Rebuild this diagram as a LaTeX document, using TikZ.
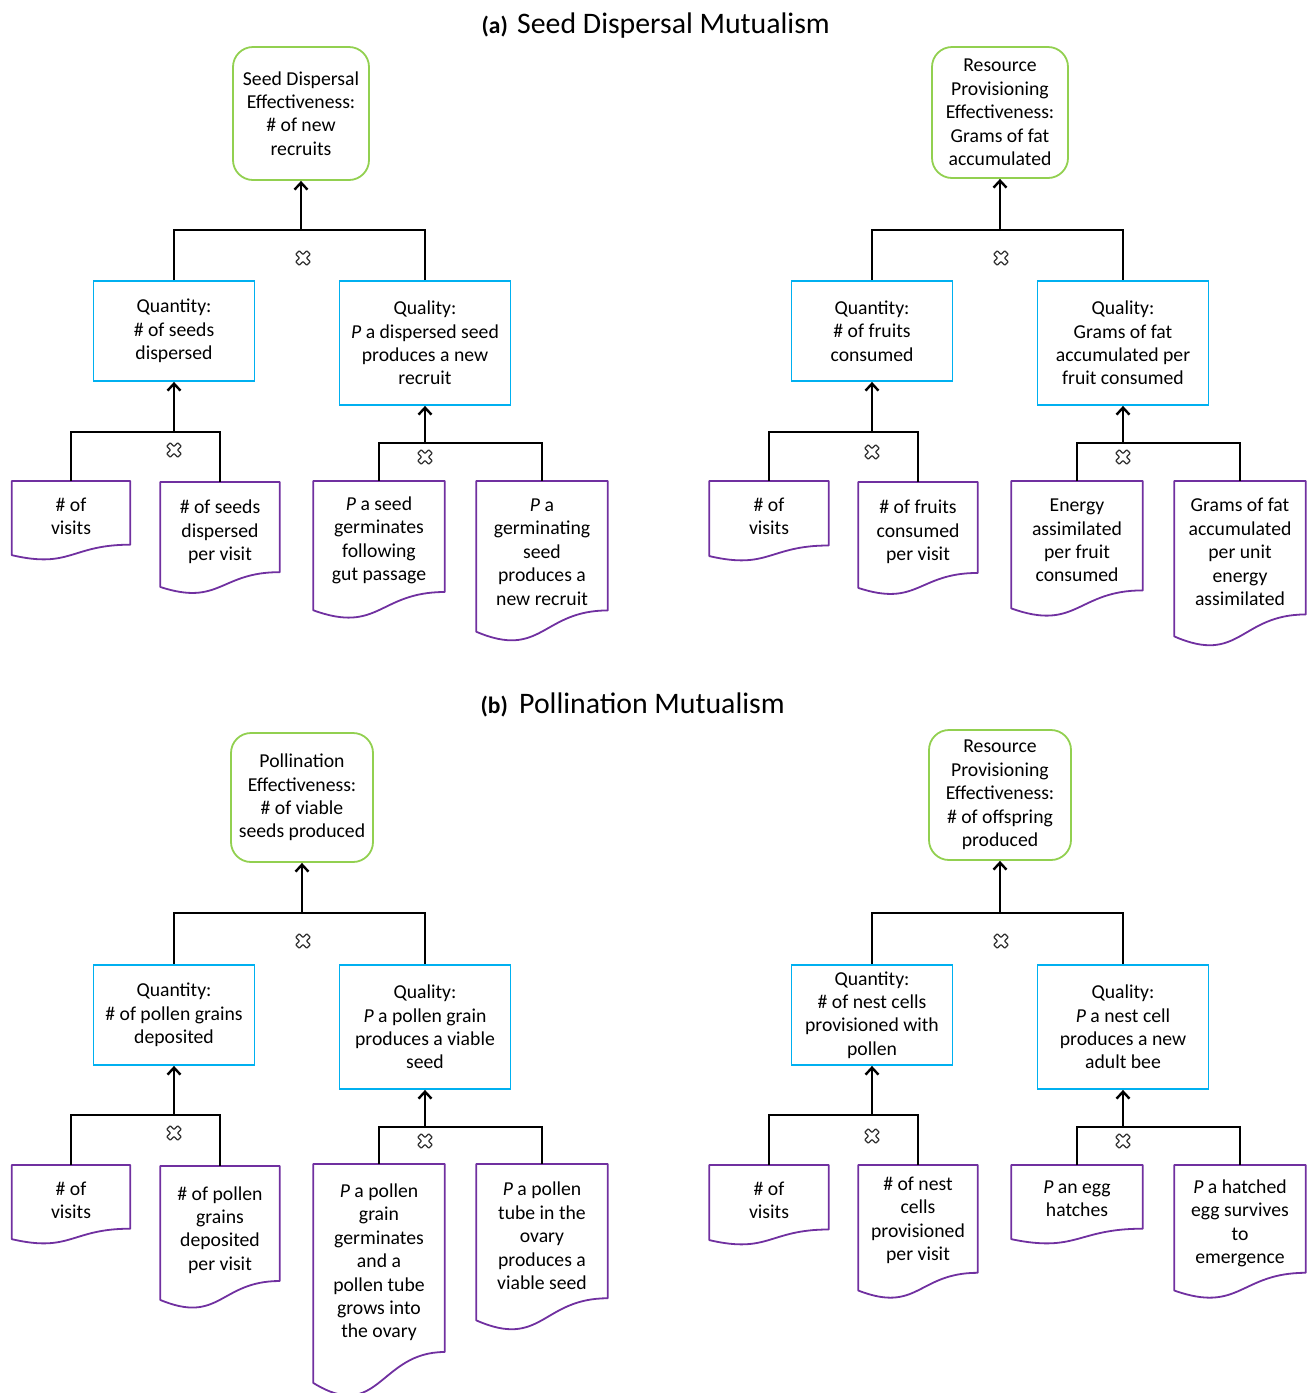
\documentclass[tikz,border=0pt]{standalone}
\usepackage{fontspec}
\setmainfont{Carlito}
\usetikzlibrary{arrows.meta,calc}

\definecolor{goalgreen}{HTML}{92D050}
\definecolor{compblue}{HTML}{00B0F0}
\definecolor{factpurple}{HTML}{7030A0}
\definecolor{xgray}{HTML}{303030}

\tikzset{
  base/.style={font=\fontsize{19.7}{23.4}\selectfont, align=center},
  goal/.style={base, draw=goalgreen, line width=1.8pt, rounded corners=20pt, inner sep=0pt},
  comp/.style={base, draw=compblue, line width=1.8pt, inner sep=0pt},
  quan/.style={comp, minimum width=161pt, minimum height=100pt},
  qual/.style={comp, minimum width=171pt, minimum height=124pt},
  docframe/.style={inner sep=0pt, draw=none},
  doctext/.style={base, inner sep=0pt},
  link/.style={line width=1.8pt, black},
  arr/.style={link, -{Straight Barb[length=7pt,width=13pt,line width=2.4pt]}},
  title/.style={font=\fontsize{29.8}{34}\selectfont, inner sep=0pt},
  tag/.style={font=\fontsize{23.5}{27}\selectfont\bfseries, inner sep=0pt},
  xmark/.pic={
    \draw[xgray, line width=1.2pt, fill=white, rotate=45, rounded corners=0.6pt]
      (2.5,2.5) -- (2.5,7.8) -- (-2.5,7.8) -- (-2.5,2.5) -- (-7.8,2.5) -- (-7.8,-2.5)
      -- (-2.5,-2.5) -- (-2.5,-7.8) -- (2.5,-7.8) -- (2.5,-2.5) -- (7.8,-2.5)
      -- (7.8,2.5) -- cycle;
  }
}

% document-shaped box: name, centre x, top y, width, height, text y, text
\newcommand\docbox[7]{%
  \node[docframe, minimum width=#4pt, minimum height=#5pt, anchor=north] (#1) at (#2,#3) {};
  \draw[factpurple, line width=1.8pt, line join=round]
    (#1.north west) -- (#1.north east) -- ($(#1.north east)!0.802!(#1.south east)$)
    .. controls ($(#1.north)!0.802!(#1.south)$) and ($(#1.north)!1.107!(#1.south)$)
    .. ($(#1.north west)!0.934!(#1.south west)$) -- cycle;
  \node[doctext] (#1t) at (#2,#6) {#7};
}

\begin{document}
\begin{tikzpicture}[x=1pt,y=-1pt]
\useasboundingbox (0,0) rectangle (1307,1393);

% ---------------- titles
\node[tag, anchor=base east] (tagA) at (508,33) {(a)};
\node[title, anchor=base west] (titA) at (517,33) {Seed Dispersal Mutualism};
\node[tag, anchor=base east] (tagB) at (508,713) {(b)};
\node[title, anchor=base west] (titB) at (519,713) {Pollination Mutualism};

% ================= (a) seed disperser -> plant
\node[goal, minimum width=136pt, minimum height=133pt] (gA1) at (301,113.5)
  {Seed Dispersal\\Effectiveness:\\\# of new\\recruits};
\node[quan] (qnA1) at (174,331) {Quantity:\\\# of seeds\\dispersed};
\node[qual] (qlA1) at (425,343) {Quality:\\\textit{P} a dispersed seed\\produces a new\\recruit};
\docbox{dA1a}{71}{481}{118}{79}{516.5}{\# of\\visits}
\docbox{dA1b}{220}{482}{119}{112}{532}{\# of seeds\\dispersed\\per visit}
\docbox{dA1c}{379}{481}{131}{138}{540.5}{\textit{P} a seed\\germinates\\following\\gut passage}
\docbox{dA1d}{542}{481}{131}{161}{552}{\textit{P} a\\germinating\\seed\\produces a\\new recruit}

\coordinate (jA1) at (301,230);
\draw[arr] (jA1) -- (gA1.south);
\draw[link] (qnA1.north) |- (jA1) -| (qlA1.north);
\pic at (303,258) {xmark};
\coordinate (kA1) at (174,432);
\draw[arr] (kA1) -- (qnA1.south);
\draw[link] (dA1a.north) |- (kA1) -| (dA1b.north);
\pic at (174,450) {xmark};
\coordinate (mA1) at (425,443);
\draw[arr] (mA1) -- (qlA1.south);
\draw[link] (dA1c.north) |- (mA1) -| (dA1d.north);
\pic at (425,457) {xmark};

% ================= (a) plant -> seed disperser
\node[goal, minimum width=136pt, minimum height=131pt] (gA2) at (1000,112.5)
  {Resource\\Provisioning\\Effectiveness:\\Grams of fat\\accumulated};
\node[quan] (qnA2) at (872,331) {Quantity:\\\# of fruits\\consumed};
\node[qual] (qlA2) at (1123,343) {Quality:\\Grams of fat\\accumulated per\\fruit consumed};
\docbox{dA2a}{769}{481}{119}{80}{516.5}{\# of\\visits}
\docbox{dA2b}{918}{482}{119}{113}{532}{\# of fruits\\consumed\\per visit}
\docbox{dA2c}{1077}{481}{131}{136}{540.5}{Energy\\assimilated\\per fruit\\consumed}
\docbox{dA2d}{1240}{481}{131}{166}{552}{Grams of fat\\accumulated\\per unit\\energy\\assimilated}

\coordinate (jA2) at (1000,230);
\draw[arr] (jA2) -- (gA2.south);
\draw[link] (qnA2.north) |- (jA2) -| (qlA2.north);
\pic at (1001,258) {xmark};
\coordinate (kA2) at (872,432);
\draw[arr] (kA2) -- (qnA2.south);
\draw[link] (dA2a.north) |- (kA2) -| (dA2b.north);
\pic at (872,452) {xmark};
\coordinate (mA2) at (1123,443);
\draw[arr] (mA2) -- (qlA2.south);
\draw[link] (dA2c.north) |- (mA2) -| (dA2d.north);
\pic at (1123,457) {xmark};

% ================= (b) pollinator -> plant
\node[goal, minimum width=142pt, minimum height=129pt] (gB1) at (302,797.5)
  {Pollination\\Effectiveness:\\\# of viable\\seeds produced};
\node[quan] (qnB1) at (174,1015) {Quantity:\\\# of pollen grains\\deposited};
\node[qual] (qlB1) at (425,1027) {Quality:\\\textit{P} a pollen grain\\produces a viable\\seed};
\docbox{dB1a}{71}{1165}{118}{79}{1200.5}{\# of\\visits}
\docbox{dB1b}{220}{1166}{119}{143}{1230}{\# of pollen\\grains\\deposited\\per visit}
\docbox{dB1c}{379}{1164}{131}{234}{1262.5}{\textit{P} a pollen\\grain\\germinates\\and a\\pollen tube\\grows into\\the ovary}
\docbox{dB1d}{542}{1164}{131}{167}{1236}{\textit{P} a pollen\\tube in the\\ovary\\produces a\\viable seed}

\coordinate (jB1) at (302,913);
\draw[arr] (jB1) -- (gB1.south);
\draw[link] (qnB1.north) |- (jB1) -| (qlB1.north);
\pic at (303,941) {xmark};
\coordinate (kB1) at (174,1115);
\draw[arr] (kB1) -- (qnB1.south);
\draw[link] (dB1a.north) |- (kB1) -| (dB1b.north);
\pic at (174,1133) {xmark};
\coordinate (mB1) at (425,1127);
\draw[arr] (mB1) -- (qlB1.south);
\draw[link] (dB1c.north) |- (mB1) -| (dB1d.north);
\pic at (425,1141) {xmark};

% ================= (b) plant -> pollinator
\node[goal, minimum width=142pt, minimum height=130pt] (gB2) at (1000,795)
  {Resource\\Provisioning\\Effectiveness:\\\# of offspring\\produced};
\node[quan] (qnB2) at (872,1015) {Quantity:\\\# of nest cells\\provisioned with\\pollen};
\node[qual] (qlB2) at (1123,1027) {Quality:\\\textit{P} a nest cell\\produces a new\\adult bee};
\docbox{dB2a}{769}{1165}{119}{80}{1200.5}{\# of\\visits}
\docbox{dB2b}{918}{1165}{119}{134}{1220.5}{\# of nest\\cells\\provisioned\\per visit}
\docbox{dB2c}{1077}{1165}{131}{79}{1199}{\textit{P} an egg\\hatches}
\docbox{dB2d}{1240}{1165}{131}{134}{1223.5}{\textit{P} a hatched\\egg survives\\to\\emergence}

\coordinate (jB2) at (1000,913);
\draw[arr] (jB2) -- (gB2.south);
\draw[link] (qnB2.north) |- (jB2) -| (qlB2.north);
\pic at (1001,941) {xmark};
\coordinate (kB2) at (872,1115);
\draw[arr] (kB2) -- (qnB2.south);
\draw[link] (dB2a.north) |- (kB2) -| (dB2b.north);
\pic at (872,1136) {xmark};
\coordinate (mB2) at (1123,1127);
\draw[arr] (mB2) -- (qlB2.south);
\draw[link] (dB2c.north) |- (mB2) -| (dB2d.north);
\pic at (1123,1141) {xmark};
\end{tikzpicture}
\end{document}
